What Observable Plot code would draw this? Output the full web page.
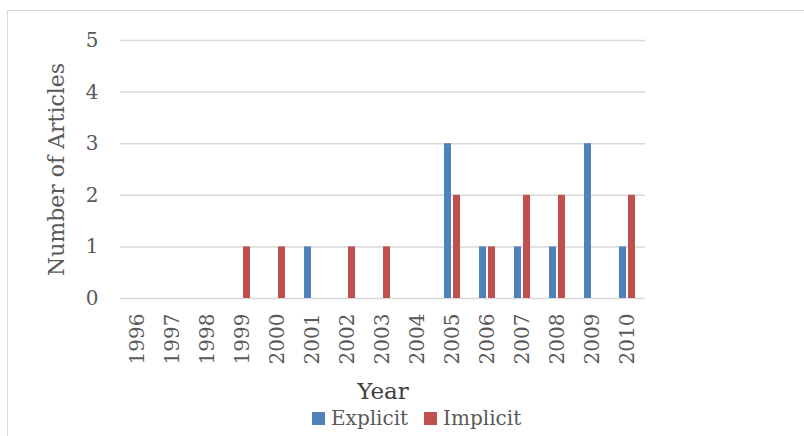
<!DOCTYPE html>
<html><head><meta charset="utf-8">
<script src="https://cdn.jsdelivr.net/npm/d3@7"></script>
<script src="https://cdn.jsdelivr.net/npm/@observablehq/plot@0.6"></script>
<style>
html,body{margin:0;padding:0;background:#fff;overflow:hidden;width:804px;height:436px;position:relative}
#frame{position:absolute;left:7px;top:10px;width:820px;height:460px;border:1.5px solid #d9d9d9;box-sizing:border-box;pointer-events:none;z-index:5}
#chart{position:absolute;left:0;top:0}
#legend{position:absolute;left:312px;top:406px;height:24px;display:flex;align-items:center;font-family:"DejaVu Serif",serif;font-size:20px;color:#595959}
#legend .item{display:flex;align-items:center;margin-right:16px}
#legend .sw{width:13px;height:13px;margin-right:6px}
</style>
</head><body>
<div id="chart"></div>
<div id="legend"></div>
<div id="frame"></div>
<script>
const years = ["1996","1997","1998","1999","2000","2001","2002","2003","2004","2005","2006","2007","2008","2009","2010"];
const series = ["Explicit","Implicit"];
const explicit = [0,0,0,0,0,1,0,0,0,3,1,1,1,3,1];
const implicit = [0,0,0,1,1,0,1,1,0,2,1,2,2,0,2];
const yTicks = [0,1,2,3,4,5];
const colors = ["#4F81BD","#C0504D"];

const data = years.flatMap((yr,i)=>[
  {year:yr, series:"Explicit", value:explicit[i]},
  {year:yr, series:"Implicit", value:implicit[i]}
]);

const chart = Plot.plot({
  width:804, height:406,
  marginLeft:115, marginRight:155, marginTop:40, marginBottom:108,
  style:{fontFamily:"DejaVu Serif, serif", background:"transparent"},
  fx:{domain:years, padding:0},
  x:{domain:series, paddingInner:0.2, paddingOuter:0.88, axis:null},
  y:{domain:[0,5]},
  color:{domain:series, range:colors},
  marks:[
    Plot.ruleY(yTicks,{stroke:"#d9d9d9", strokeWidth:1.5}),
    Plot.barY(data,{fx:"year", x:"series", y:"value", fill:"series"}),
    Plot.axisY({ticks:yTicks, tickFormat:d3.format("d"), tickSize:0, tickPadding:22, fontSize:20, label:null, color:"#595959"}),
    Plot.axisY({ticks:[], label:"Number of Articles", labelAnchor:"center", labelArrow:"none", labelOffset:72, fontSize:22, color:"#595959"}),
    Plot.axisFx({anchor:"bottom", tickSize:0, tickRotate:-90, tickPadding:15, fontSize:20, color:"#595959", label:null}),
    Plot.axisFx({anchor:"bottom", ticks:[], label:"Year", labelAnchor:"center", labelArrow:"none", labelOffset:100, fontSize:23, color:"#404040"})
  ]
});
document.getElementById("chart").appendChild(chart);

const leg = document.getElementById("legend");
series.forEach((s,i)=>{
  const it = document.createElement("div"); it.className="item";
  const sw = document.createElement("div"); sw.className="sw"; sw.style.background=colors[i];
  const tx = document.createElement("span"); tx.textContent=s;
  it.appendChild(sw); it.appendChild(tx); leg.appendChild(it);
});
</script>
</body></html>
